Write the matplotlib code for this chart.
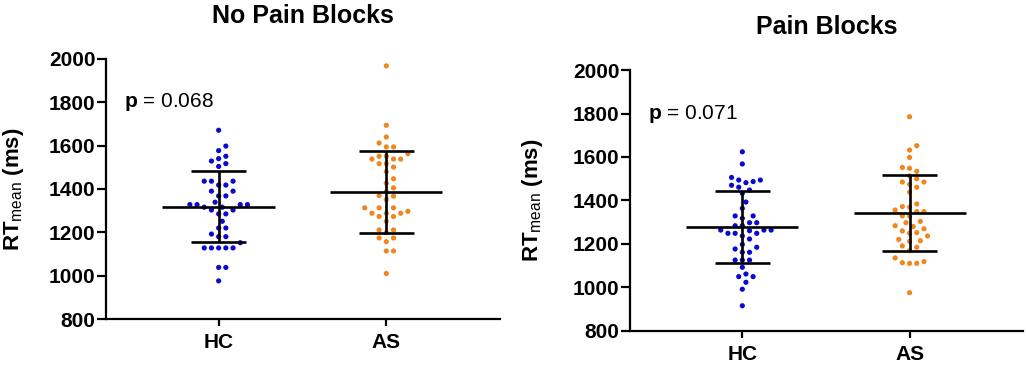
import numpy as np
import matplotlib
matplotlib.use('Agg')
import matplotlib.pyplot as plt

plt.rcParams['font.family'] = ['Liberation Sans', 'DejaVu Sans']
plt.rcParams['mathtext.fontset'] = 'custom'
plt.rcParams['mathtext.rm'] = 'Liberation Sans'
plt.rcParams['mathtext.bf'] = 'Liberation Sans:bold'

groups = ['HC', 'AS']
titles = ['No Pain Blocks', 'Pain Blocks']
p_values = ['0.068', '0.071']

# values (ms)
nopain_hc = [1671, 1598, 1577, 1551, 1540, 1529, 1517, 1504,
             1436, 1436, 1436, 1418, 1418, 1390, 1390, 1368, 1368, 1339,
             1328, 1328, 1328, 1328, 1316, 1316, 1303, 1303, 1285, 1285,
             1251, 1220, 1220, 1192, 1180, 1180, 1152,
             1128, 1128, 1128, 1128, 1128, 1038, 1038, 976]
nopain_as = [1968, 1694, 1640, 1612, 1594, 1594, 1563, 1551, 1551,
             1538, 1538, 1538, 1517, 1517, 1501, 1480, 1447, 1427, 1405,
             1387, 1370, 1367, 1351, 1313, 1313, 1313, 1297, 1288, 1288,
             1288, 1273, 1273, 1251, 1211, 1211, 1199, 1174, 1174, 1157,
             1114, 1114, 1010]
pain_hc = [1624, 1568, 1506, 1494, 1494, 1487, 1482, 1470, 1461, 1448,
           1433, 1393, 1364, 1329, 1329, 1318, 1298, 1298, 1284, 1284,
           1264, 1264, 1264, 1261, 1249, 1249, 1249, 1237, 1223, 1198,
           1185, 1177, 1162, 1162, 1126, 1126, 1126, 1093, 1062, 1050,
           1050, 1024, 992, 916]
pain_as = [1785, 1652, 1632, 1598, 1552, 1548, 1534, 1513, 1500, 1485,
           1485, 1474, 1461, 1438, 1384, 1372, 1369, 1356, 1349, 1349,
           1329, 1329, 1304, 1298, 1284, 1280, 1270, 1260, 1252, 1249,
           1237, 1221, 1215, 1212, 1191, 1185, 1169, 1136, 1119, 1114,
           1111, 1111, 976]

# mean and SD as drawn
nopain_mean = [1319, 1387]
nopain_sd = [165, 189]
pain_mean = [1277, 1341]
pain_sd = [166, 174]

colors = ['#0A0ACD', '#F0861E']


def swarm_offsets(values, px_per_unit_y, px_per_unit_x, d=7.2):
    # greedy beeswarm in pixel space, returns x offsets in data units
    order = np.argsort(values)
    placed = []
    offs = np.zeros(len(values))
    step = d / 2
    for i in order:
        y = values[i] * px_per_unit_y
        k = 0
        while True:
            cands = [0] if k == 0 else [k * step, -k * step]
            ok = None
            for c in cands:
                if all((c - px) ** 2 + (y - py) ** 2 >= (d * 0.98) ** 2 for px, py in placed):
                    ok = c
                    break
            if ok is not None:
                placed.append((ok, y))
                offs[i] = ok / px_per_unit_x
                break
            k += 1
    return offs


fig = plt.figure(figsize=(10.26, 3.65), dpi=100)
ax1 = fig.add_axes([0.1033, 0.126, 0.384, 0.7125])
ax2 = fig.add_axes([0.614, 0.0932, 0.383, 0.715])

panels = [(ax1, [nopain_hc, nopain_as], nopain_mean, nopain_sd),
          (ax2, [pain_hc, pain_as], pain_mean, pain_sd)]

for n, (ax, data, means, sds) in enumerate(panels):
    ax.set_xlim(-0.672, 1.678)
    ax.set_ylim(800, 2000)
    bbox = ax.get_position()
    h_px = bbox.height * 365
    w_px = bbox.width * 1026
    ppy = h_px / 1200.0
    ppx = w_px / 2.35
    for i, vals in enumerate(data):
        vals = np.array(vals, dtype=float)
        offs = swarm_offsets(vals, ppy, ppx)
        ax.scatter(i + offs, vals, s=14, color=colors[i], edgecolors='none', zorder=2)
        ax.hlines(means[i], i - 0.335, i + 0.335, color='black', lw=1.9, zorder=3)
        ax.hlines([means[i] - sds[i], means[i] + sds[i]], i - 0.165, i + 0.165,
                  color='black', lw=1.9, zorder=3)
        ax.vlines(i, means[i] - sds[i], means[i] + sds[i], color='black', lw=1.9, zorder=3)

    ax.set_xticks([0, 1])
    ax.set_xticklabels(groups, fontsize=15, fontweight='bold')
    ax.set_yticks(np.arange(800, 2001, 200))
    ax.set_yticklabels([str(v) for v in range(800, 2001, 200)], fontsize=15, fontweight='bold')
    for s in ['top', 'right']:
        ax.spines[s].set_visible(False)
    for s in ['left', 'bottom']:
        ax.spines[s].set_linewidth(1.6)
    ax.tick_params(axis='y', length=6.5, width=1.6, pad=1)
    ax.tick_params(axis='x', length=5, width=1.6, pad=5)
    ax.set_ylabel(r'RT$_{\rm mean}$ (ms)', fontsize=16, fontweight='bold')
    ax.set_title(titles[n], fontsize=18, fontweight='bold', pad=26)
    ax.text(-0.567, 1800, r'$\bf{p}$ = ' + p_values[n], fontsize=15, va='center', ha='left')

ax1.yaxis.set_label_coords(-0.203, 0.5)
ax2.yaxis.set_label_coords(-0.216, 0.5)

fig.savefig('out.png', dpi=100)
